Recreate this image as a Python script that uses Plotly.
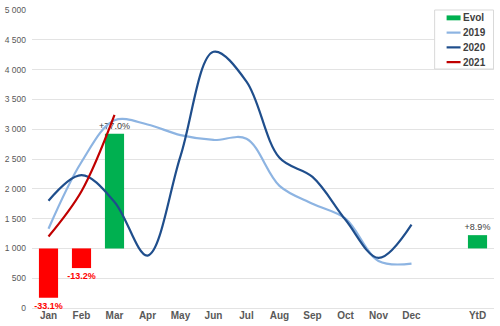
import plotly.graph_objects as go

months = ["Jan", "Feb", "Mar", "Apr", "May", "Jun", "Jul", "Aug", "Sep", "Oct", "Nov", "Dec"]
x_labels = months + ["", "YtD"]

sales_2019 = [1330, 2450, 3150, 3080, 2900, 2820, 2840, 2050, 1750, 1500, 790, 745]
sales_2020 = [1800, 2230, 1780, 880, 2550, 4300, 3800, 2520, 2200, 1480, 840, 1400]
sales_2021 = [1200, 1960, 3240]

evol_pos = ["Jan", "Feb", "Mar", "YtD"]
evol_pct = [-33.1, -13.2, 77.0, 8.9]
evol_base = 1000
evol_scale = 2500  # chart units per 100 %

legend_names = ["Evol", "2019", "2020", "2021"]
legend_colors = ["#00B050", "#8DB4E2", "#1F4E8C", "#C00000"]

xpos = {lab: i for i, lab in enumerate(x_labels)}

fig = go.Figure()

bar_x = [xpos[m] for m in evol_pos]
bar_y = [p / 100 * evol_scale for p in evol_pct]
bar_col = ["#FF0000" if p < 0 else "#00B050" for p in evol_pct]
bar_txt = [("<b>%+.1f%%</b>" % p) if p < 0 else ("%+.1f%%" % p) for p in evol_pct]
txt_col = ["#FF0000" if p < 0 else "#404040" for p in evol_pct]

fig.add_trace(go.Bar(
    x=bar_x, y=bar_y, base=evol_base, name="Evol",
    marker=dict(color=bar_col, line=dict(width=0)),
    width=0.58,
    text=bar_txt, textposition="outside", constraintext="none",
    textfont=dict(color=txt_col, size=9, family="Liberation Sans, Arial"),
    cliponaxis=False, showlegend=False,
))

line_specs = [
    ("2019", sales_2019, legend_colors[1]),
    ("2020", sales_2020, legend_colors[2]),
    ("2021", sales_2021, legend_colors[3]),
]
for name, vals, col in line_specs:
    fig.add_trace(go.Scatter(
        x=list(range(len(vals))), y=vals, name=name, mode="lines",
        line=dict(color=col, width=2.2, shape="spline", smoothing=1.0),
        showlegend=False,
    ))

# custom legend (pixel -> paper conversion)
PL, PR, PT, PB = 31.5, 494.5, 5.0, 308.0
def px(x):
    return (x - PL) / (PR - PL)
def py(y):
    return (PB - y) / (PB - PT)

shapes = [dict(type="rect", xref="paper", yref="paper",
               x0=px(435), x1=px(494), y0=py(65), y1=py(5),
               line=dict(color="#D9D9D9", width=1), fillcolor="white", layer="above")]
annotations = []
row_y = [13, 28, 43, 58]
for i, (nm, col) in enumerate(zip(legend_names, legend_colors)):
    yy = row_y[i]
    if i == 0:
        shapes.append(dict(type="rect", xref="paper", yref="paper",
                           x0=px(447), x1=px(461), y0=py(yy + 2.5), y1=py(yy - 2.5),
                           line=dict(width=0), fillcolor=col, layer="above"))
    else:
        shapes.append(dict(type="line", xref="paper", yref="paper",
                           x0=px(447), x1=px(461), y0=py(yy), y1=py(yy),
                           line=dict(color=col, width=2.2), layer="above"))
    annotations.append(dict(xref="paper", yref="paper", x=px(461.5), y=py(yy),
                            xanchor="left", yanchor="middle", showarrow=False,
                            text="<b>%s</b>" % nm,
                            font=dict(size=10, color="#404040", family="Liberation Sans, Arial")))

fig.update_layout(
    width=500, height=326,
    margin=dict(l=PL, r=500 - PR, t=PT, b=326 - PB),
    paper_bgcolor="white", plot_bgcolor="white",
    separators=". ",
    barmode="overlay",
    font=dict(family="Liberation Sans, Arial", color="#595959"),
    showlegend=False,
    shapes=shapes,
    annotations=annotations,
    xaxis=dict(
        range=[-0.5, 13.5],
        tickmode="array",
        tickvals=list(range(len(x_labels))),
        ticktext=["<b>%s</b>" % t if t else "" for t in x_labels],
        tickfont=dict(size=10, color="#595959"),
        showgrid=False, zeroline=False, showline=False, ticks="",
        fixedrange=True,
    ),
    yaxis=dict(
        range=[0, 5001], tickmode="array",
        tickvals=list(range(0, 5001, 500)),
        ticktext=[("{:,}".format(v)).replace(",", " ") for v in range(0, 5001, 500)],
        tickfont=dict(size=8.5, color="#595959"),
        showgrid=True, gridcolor="#E3E3E3", gridwidth=1,
        zeroline=True, zerolinecolor="#E3E3E3", zerolinewidth=1,
        showline=False, ticks="", ticklabelstandoff=5,
    ),
)

fig.write_html("out.html")
